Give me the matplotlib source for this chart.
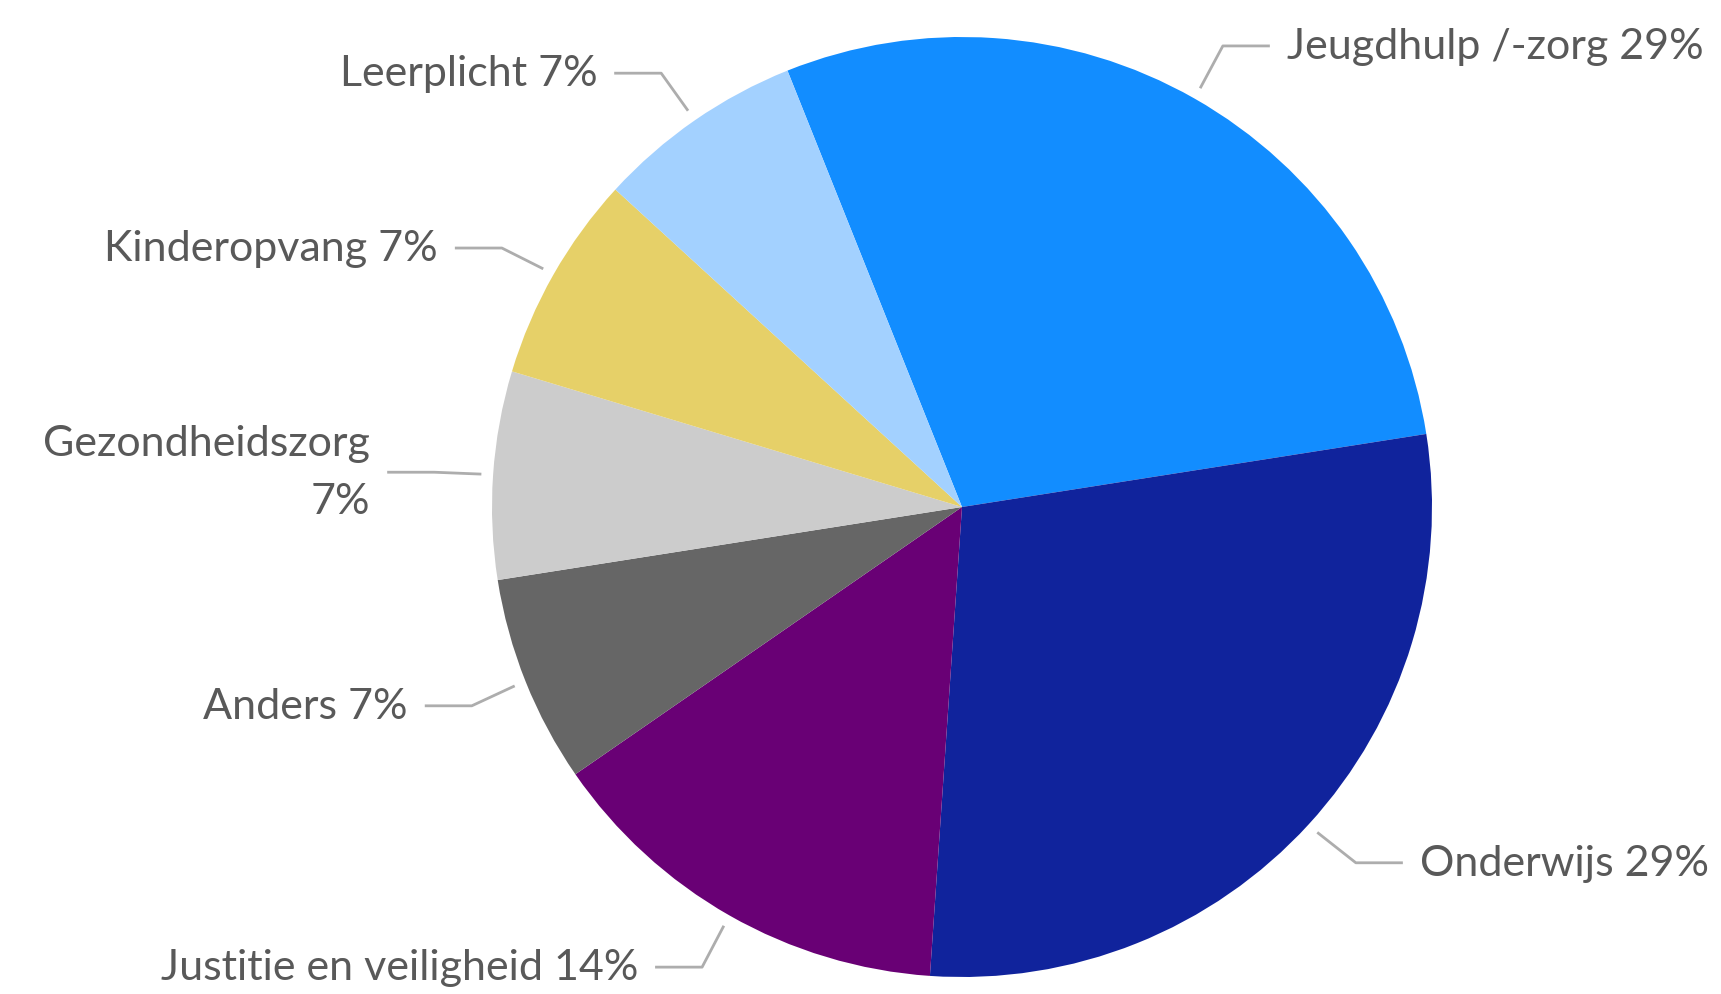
import numpy as np
import matplotlib
matplotlib.use("Agg")
import matplotlib.pyplot as plt

# data (counts, 14 in total)
labels = ["Jeugdhulp /-zorg", "Onderwijs", "Justitie en veiligheid", "Anders",
          "Gezondheidszorg\n", "Kinderopvang", "Leerplicht"]
counts = [4, 4, 2, 1, 1, 1, 1]
colors = ["#128DFF", "#10239C", "#690075", "#666666", "#CCCCCC", "#E6D068", "#A3D1FF"]

# label layout: elbow point of the leader line (data coords, radius 1 = pie edge)
elbows = [(0.555, 0.981), (0.838, -0.757), (-0.553, -0.979), (-1.043, -0.423),
          (-1.123, 0.074), (-0.979, 0.551), (-0.640, 0.923)]

W, H = 1721, 995
cx, cy, R = 962, 508, 470

plt.rcParams['font.family'] = ['Lato', 'DejaVu Sans']
fig = plt.figure(figsize=(W / 100, H / 100), dpi=100)
ax = fig.add_axes([(cx - R) / W, (H - cy - R) / H, 2 * R / W, 2 * R / H])

start = 111.8
wedges, _ = ax.pie(counts, colors=colors, startangle=start, counterclock=False,
                   radius=1, wedgeprops=dict(linewidth=0))
ax.set_xlim(-1, 1)
ax.set_ylim(-1, 1)
ax.set_aspect('equal')
ax.axis('off')

total = sum(counts)
line_col = "#ADADAD"
txt_col = "#595959"
for i, (w, lab, c) in enumerate(zip(wedges, labels, counts)):
    mid = np.deg2rad((w.theta1 + w.theta2) / 2)
    ax0 = 1.025 * np.cos(mid)
    ay0 = 1.025 * np.sin(mid)
    ex, ey = elbows[i]
    side = 1 if ex > 0 else -1
    hx = ex + side * 0.1
    ax.plot([ax0, ex, hx], [ay0, ey, ey], color=line_col, lw=2.0,
            solid_capstyle='butt', clip_on=False)
    pct = f"{round(100 * c / total)}%"
    if lab.endswith("\n"):
        txt = lab + pct
    else:
        txt = f"{lab} {pct}"
    ax.text(hx + side * 0.036, ey, txt, ha='left' if side > 0 else 'right',
            va='center', fontsize=31, color=txt_col, multialignment='right',
            linespacing=1.65, clip_on=False)

fig.savefig("out.png", dpi=100)
